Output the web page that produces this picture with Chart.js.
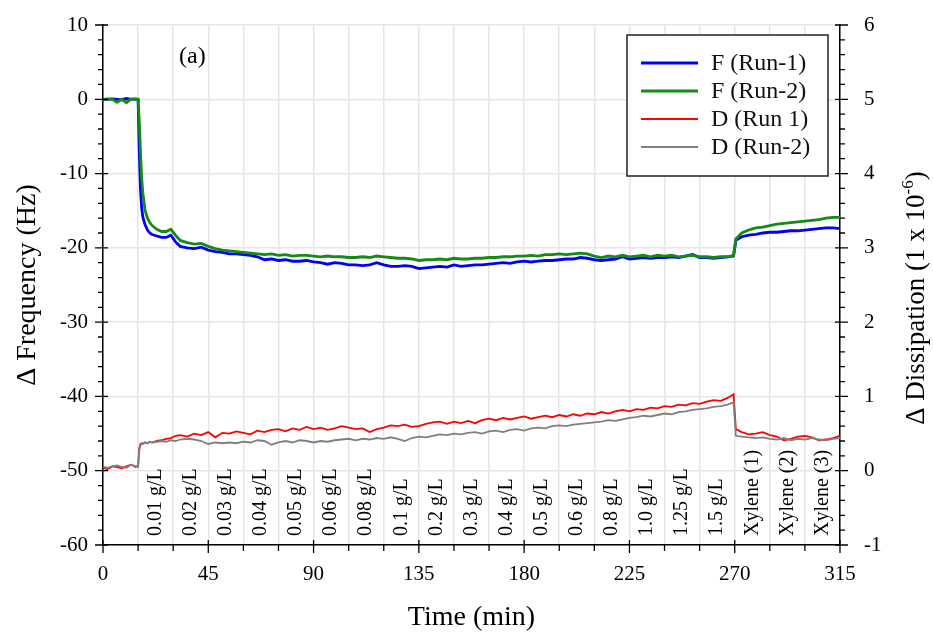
<!DOCTYPE html>
<html>
<head>
<meta charset="utf-8">
<script src="https://cdn.jsdelivr.net/npm/chart.js@4/dist/chart.umd.min.js"></script>
<style>
  html, body { margin: 0; padding: 0; background: #fff; }
  #wrap { width: 933px; height: 635px; }
</style>
</head>
<body>
<div id="wrap"><canvas id="qcm" width="933" height="635"></canvas></div>
<script>
// time (min)
const times = [
  0, 2, 4, 6, 8, 10, 12, 14,
  15, 15.5, 16, 16.5, 17, 18, 19, 20, 21,
  23, 25, 27, 29, 31, 33,
  36, 39, 42, 45, 48, 51, 54, 57, 60, 63,
  66, 69, 72, 75, 78, 81, 84, 87, 90, 93,
  96, 99, 102, 105, 108, 111, 114, 117, 120, 123,
  126, 129, 132, 135, 138, 141, 144, 147, 150, 153,
  156, 159, 162, 165, 168, 171, 174, 177, 180, 183,
  186, 189, 192, 195, 198, 201, 204, 207, 210, 213,
  216, 219, 222, 225, 228, 231, 234, 237, 240, 243,
  246, 249, 252, 255, 258, 261, 264, 267,
  269.5, 270.5,
  273, 276, 279, 282, 285, 288, 291, 294, 297, 300, 303, 306, 309, 312, 315
];

// delta frequency (Hz)
const freqRun1 = [
  0, 0, 0.05, 0, -0.05, 0.1, 0, 0.05,
  0, -7, -12, -14.5, -15.8, -16.9, -17.6, -18.0, -18.2,
  -18.4, -18.6, -18.6, -18.3, -19.2, -19.8,
  -20.0, -20.1, -19.9, -20.3, -20.5, -20.6, -20.8, -20.8, -20.9, -21.0,
  -21.2, -21.6, -21.5, -21.7, -21.6, -21.8, -21.8, -21.7, -21.9, -22.0,
  -22.2, -22.0, -22.1, -22.3, -22.3, -22.4, -22.3, -22.0, -22.3, -22.5,
  -22.5, -22.4, -22.5, -22.8, -22.7, -22.6, -22.5, -22.6, -22.3, -22.5,
  -22.4, -22.3, -22.3, -22.2, -22.1, -22.0, -22.1, -21.9, -21.8, -21.9,
  -21.8, -21.7, -21.7, -21.6, -21.5, -21.5, -21.3, -21.4, -21.6, -21.7,
  -21.6, -21.5, -21.2, -21.5, -21.4, -21.3, -21.4, -21.3, -21.3, -21.2,
  -21.3, -21.1, -20.9, -21.3, -21.3, -21.4, -21.3, -21.2,
  -21.1, -19.0,
  -18.5, -18.3, -18.2, -18.0, -17.9, -17.9, -17.8, -17.7, -17.7, -17.6, -17.5, -17.4, -17.3, -17.3, -17.4
];
const freqRun2 = [
  0, 0.05, 0, -0.4, 0, -0.45, 0.05, 0,
  0, -3, -7, -10.5, -12.5, -15.0, -16.0, -16.6, -17.0,
  -17.5, -17.8, -17.8, -17.5, -18.3, -19.0,
  -19.3, -19.5, -19.4, -19.8, -20.1, -20.3, -20.4, -20.5, -20.6, -20.7,
  -20.8, -20.9, -20.8, -21.0, -20.9, -21.1, -21.0, -21.0, -21.1, -21.2,
  -21.1, -21.2, -21.2, -21.3, -21.3, -21.2, -21.3, -21.1, -21.2, -21.3,
  -21.4, -21.4, -21.5, -21.7, -21.6, -21.6, -21.5, -21.6, -21.4, -21.5,
  -21.5, -21.4, -21.4, -21.3, -21.3, -21.2, -21.2, -21.1, -21.1, -21.0,
  -21.1, -20.9, -20.9, -20.8, -20.9, -20.8, -20.7, -20.8, -21.1, -21.3,
  -21.1, -21.2, -21.0, -21.2, -21.1, -21.0, -21.2, -21.0, -21.1, -21.0,
  -21.2, -21.1, -21.0, -21.2, -21.2, -21.3, -21.2, -21.2,
  -21.0, -18.8,
  -18.0, -17.6, -17.3, -17.2, -17.0, -16.8, -16.7, -16.6, -16.5, -16.4, -16.3, -16.2, -16.0, -15.9, -15.9
];

// delta dissipation (1e-6)
const dissRun1 = [
  0.04, 0.02, 0.06, 0.05, 0.03, 0.06, 0.08, 0.05,
  0.07, 0.30, 0.36, 0.37, 0.36, 0.38, 0.37, 0.39, 0.38,
  0.40, 0.41, 0.43, 0.44, 0.47, 0.48,
  0.46, 0.50, 0.48, 0.52, 0.45, 0.51, 0.50, 0.53, 0.51, 0.49,
  0.54, 0.52, 0.55, 0.56, 0.53, 0.57, 0.55, 0.59, 0.56, 0.58,
  0.55, 0.57, 0.60, 0.58, 0.56, 0.57, 0.52, 0.56, 0.58, 0.61,
  0.60, 0.62, 0.59, 0.60, 0.63, 0.65, 0.66, 0.63, 0.66, 0.64,
  0.67, 0.64, 0.68, 0.70, 0.68, 0.71, 0.69, 0.71, 0.73, 0.70,
  0.72, 0.74, 0.72, 0.75, 0.73, 0.76, 0.74, 0.77, 0.76, 0.79,
  0.77, 0.80, 0.82, 0.80, 0.83, 0.82, 0.85, 0.84, 0.87, 0.86,
  0.89, 0.88, 0.91, 0.90, 0.93, 0.95, 0.94, 0.98,
  1.03, 0.56,
  0.52, 0.49, 0.50, 0.52, 0.48, 0.46, 0.41, 0.43, 0.46, 0.47, 0.45, 0.41, 0.42, 0.44, 0.47
];
const dissRun2 = [
  0.05, 0.04, 0.06, 0.07, 0.05, 0.04, 0.08, 0.06,
  0.05, 0.28, 0.34, 0.36, 0.37, 0.38, 0.37, 0.39, 0.38,
  0.39, 0.40, 0.39, 0.41, 0.40, 0.42,
  0.43, 0.42, 0.40, 0.36, 0.38, 0.37, 0.38, 0.37, 0.39, 0.38,
  0.41, 0.40, 0.35, 0.38, 0.40, 0.38, 0.41, 0.40, 0.38, 0.40,
  0.39, 0.41, 0.42, 0.43, 0.41, 0.43, 0.42, 0.44, 0.43, 0.45,
  0.43, 0.40, 0.44, 0.46, 0.45, 0.47, 0.49, 0.48, 0.50, 0.49,
  0.51, 0.52, 0.50, 0.53, 0.54, 0.52, 0.55, 0.56, 0.54, 0.57,
  0.58, 0.57, 0.60, 0.61, 0.60, 0.62, 0.63, 0.64, 0.65, 0.66,
  0.68, 0.67, 0.69, 0.71, 0.72, 0.74, 0.73, 0.75, 0.77, 0.76,
  0.79, 0.80, 0.82, 0.83, 0.84, 0.86, 0.87, 0.89,
  0.92, 0.47,
  0.46, 0.45, 0.44, 0.45, 0.43, 0.42, 0.44, 0.41, 0.43, 0.42, 0.44, 0.42, 0.41, 0.43, 0.44
];

// injection steps, each one 15 min wide starting at 15 min
const stepLabels = ['0.01 g/L', '0.02 g/L', '0.03 g/L', '0.04 g/L', '0.05 g/L', '0.06 g/L', '0.08 g/L',
  '0.1 g/L', '0.2 g/L', '0.3 g/L', '0.4 g/L', '0.5 g/L', '0.6 g/L', '0.8 g/L', '1.0 g/L', '1.25 g/L',
  '1.5 g/L', 'Xylene (1)', 'Xylene (2)', 'Xylene (3)'];
const stepMid = [22.5, 37.5, 52.5, 67.5, 82.5, 97.5, 112.5, 127.5, 142.5, 157.5,
  172.5, 187.5, 202.5, 217.5, 232.5, 247.5, 262.5, 277.5, 292.5, 307.5];

const serif = "'Liberation Serif', 'Times New Roman', serif";

const pts = (ys) => times.map((t, i) => ({ x: t, y: ys[i] }));

// keep the plot box where the reference has it
const fixBox = (size) => (s) => {
  if (s.isHorizontal()) { s.height = size; s.paddingLeft = 0; s.paddingRight = 0; }
  else { s.width = size; s.paddingTop = 0; s.paddingBottom = 0; }
};

const extras = {
  id: 'extras',
  afterDraw(chart) {
    const ctx = chart.ctx;
    const x = chart.scales.x, y = chart.scales.y, y2 = chart.scales.y2;
    const area = chart.chartArea;
    ctx.save();
    ctx.strokeStyle = '#000';
    ctx.lineWidth = 1.3;
    ctx.beginPath();
    // x ticks
    for (let t = 0; t <= 315; t += 15) {
      const px = x.getPixelForValue(t);
      const major = t % 45 === 0;
      ctx.moveTo(px, area.bottom - (major ? 5 : 0));
      ctx.lineTo(px, area.bottom + (major ? 8 : 6));
    }
    // left ticks
    for (let v = -60; v <= 10; v += 2) {
      const py = y.getPixelForValue(v);
      const major = v % 10 === 0;
      ctx.moveTo(area.left - (major ? 8 : 5), py);
      ctx.lineTo(area.left + (major ? 5 : 0), py);
    }
    // right ticks
    for (let k = -10; k <= 60; k += 2) {
      const v = k / 10;
      const py = y2.getPixelForValue(v);
      const major = k % 10 === 0;
      ctx.moveTo(area.right - (major ? 5 : 0), py);
      ctx.lineTo(area.right + (major ? 8 : 5), py);
    }
    ctx.stroke();

    // step labels, reading bottom to top
    ctx.fillStyle = '#000';
    ctx.font = '20px ' + serif;
    ctx.textAlign = 'left';
    ctx.textBaseline = 'middle';
    stepLabels.forEach((s, i) => {
      ctx.save();
      ctx.translate(x.getPixelForValue(stepMid[i]), area.bottom - 9);
      ctx.rotate(-Math.PI / 2);
      ctx.fillText(s, 0, 0);
      ctx.restore();
    });

    // panel tag
    ctx.font = '24px ' + serif;
    ctx.fillText('(a)', 179, 57);

    // right axis title with superscript
    ctx.save();
    ctx.translate(915, 298);
    ctx.rotate(-Math.PI / 2);
    const main = '\u0394 Dissipation (1 x 10';
    ctx.font = '27px ' + serif;
    const wMain = ctx.measureText(main).width;
    ctx.font = '17px ' + serif;
    const wSup = ctx.measureText('-6').width;
    ctx.font = '27px ' + serif;
    const wEnd = ctx.measureText(')').width;
    let cx = -(wMain + wSup + wEnd) / 2;
    ctx.textBaseline = 'alphabetic';
    ctx.fillText(main, cx, 9);
    cx += wMain;
    ctx.font = '17px ' + serif;
    ctx.fillText('-6', cx, -2);
    cx += wSup;
    ctx.font = '27px ' + serif;
    ctx.fillText(')', cx, 9);
    ctx.restore();

    // legend
    const bx = 627, by = 35, bw = 201, bh = 141;
    ctx.fillStyle = '#fff';
    ctx.fillRect(bx, by, bw, bh);
    ctx.strokeStyle = '#222';
    ctx.lineWidth = 1.5;
    ctx.strokeRect(bx, by, bw, bh);
    ctx.font = '24px ' + serif;
    ctx.textBaseline = 'middle';
    chart.data.datasets.forEach((ds, i) => {
      const ry = 63 + i * 28;
      ctx.strokeStyle = ds.borderColor;
      ctx.lineWidth = ds.borderWidth;
      ctx.beginPath();
      ctx.moveTo(641, ry);
      ctx.lineTo(698, ry);
      ctx.stroke();
      ctx.fillStyle = '#111';
      ctx.fillText(ds.label, 711, ry + 1);
    });
    ctx.restore();
  }
};

new Chart(document.getElementById('qcm'), {
  type: 'line',
  data: {
    datasets: [
      { label: 'F (Run-1)', data: pts(freqRun1), yAxisID: 'y', borderColor: '#0000ff', borderWidth: 2.8, order: 4 },
      { label: 'F (Run-2)', data: pts(freqRun2), yAxisID: 'y', borderColor: '#168a16', borderWidth: 2.8, order: 3 },
      { label: 'D (Run 1)', data: pts(dissRun1), yAxisID: 'y2', borderColor: '#ff0000', borderWidth: 1.8, order: 2 },
      { label: 'D (Run-2)', data: pts(dissRun2), yAxisID: 'y2', borderColor: '#808080', borderWidth: 1.8, order: 1 }
    ]
  },
  options: {
    responsive: false,
    animation: false,
    layout: { padding: { top: 25, right: 0, left: 0, bottom: 0 } },
    elements: { point: { radius: 0 }, line: { tension: 0 } },
    plugins: { legend: { display: false }, tooltip: { enabled: false } },
    scales: {
      x: {
        type: 'linear', min: 0, max: 315,
        afterFit: fixBox(90),
        ticks: {
          stepSize: 15, autoSkip: false, maxRotation: 0, padding: 17,
          color: '#000', font: { family: serif, size: 21 },
          callback: (v) => (v % 45 === 0 ? v : '')
        },
        grid: { color: '#e6e6e6', lineWidth: 1.5, drawTicks: false },
        border: { color: '#000', width: 1.5 },
        title: { display: true, text: 'Time (min)', color: '#000', font: { family: serif, size: 28 }, padding: { top: 0, bottom: 1 } }
      },
      y: {
        position: 'left', min: -60, max: 10,
        afterFit: fixBox(103),
        ticks: { stepSize: 10, padding: 15, color: '#000', font: { family: serif, size: 21 } },
        grid: { color: '#e6e6e6', lineWidth: 1.5, drawTicks: false },
        border: { color: '#000', width: 1.5 },
        title: { display: true, text: '\u0394 Frequency (Hz)', color: '#000', font: { family: serif, size: 28 }, padding: { top: 11, bottom: 0 } }
      },
      y2: {
        position: 'right', min: -1, max: 6,
        afterFit: fixBox(93),
        ticks: { stepSize: 1, padding: 24, color: '#000', font: { family: serif, size: 21 } },
        grid: { drawOnChartArea: false, drawTicks: false },
        border: { color: '#000', width: 1.5 }
      }
    }
  },
  plugins: [extras]
});
</script>
</body>
</html>
